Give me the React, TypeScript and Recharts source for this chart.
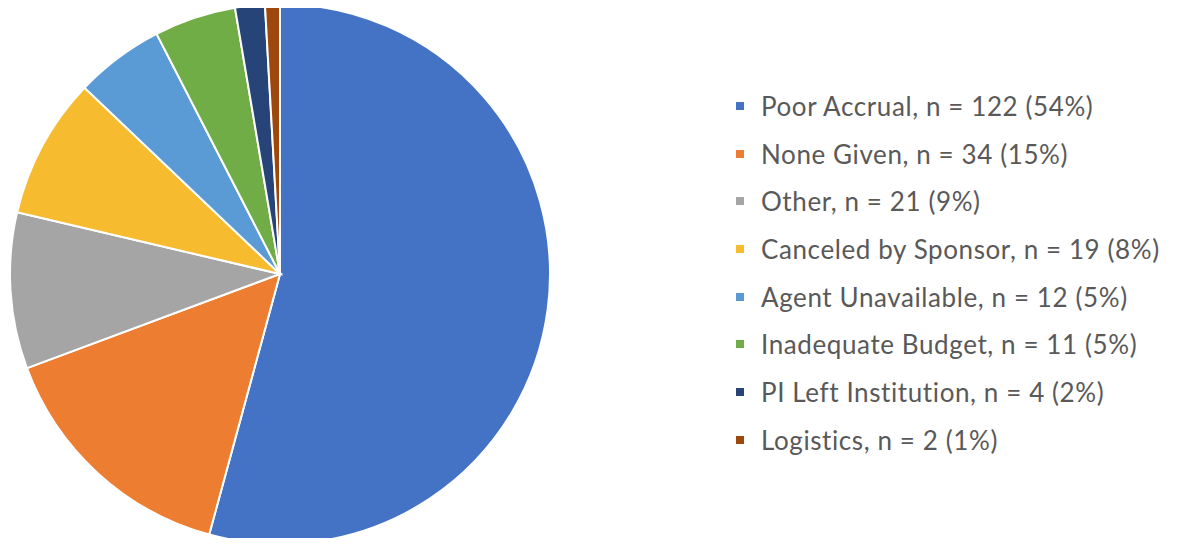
import React from "react";
import { PieChart, Pie, Cell, Legend } from "recharts";

const categories = [
  "Poor Accrual",
  "None Given",
  "Other",
  "Canceled by Sponsor",
  "Agent Unavailable",
  "Inadequate Budget",
  "PI Left Institution",
  "Logistics",
];
const counts = [122, 34, 21, 19, 12, 11, 4, 2];
const percents = [54, 15, 9, 8, 5, 5, 2, 1];
const colors = ["#4472C4", "#ED7D31", "#A5A5A5", "#F7BB2F", "#5B9BD5", "#70AD47", "#264478", "#9E480E"];

const data = categories.map((c, i) => ({
  name: c,
  value: counts[i],
  label: `${c}, n = ${counts[i]} (${percents[i]}%)`,
  fill: colors[i],
}));

const renderLegend = () => (
  <div style={{ position: "absolute", left: 736, top: 82 }}>
    {data.map((d) => (
      <div
        key={d.name}
        style={{
          display: "flex",
          alignItems: "center",
          height: 47.7,
          fontFamily: "Lato, 'Open Sans', sans-serif",
          fontSize: 26,
          letterSpacing: 0.6,
          color: "#595959",
          whiteSpace: "nowrap",
        }}
      >
        <span style={{ display: "inline-block", width: 8, height: 8, background: d.fill, marginRight: 17 }} />
        <span>{d.label}</span>
      </div>
    ))}
  </div>
);

export default function App() {
  return (
    <div style={{ margin: -8, width: 1186, height: 546, background: "#fff", position: "relative" }}>
      <PieChart width={1186} height={546} margin={{ top: 0, right: 0, bottom: 0, left: 0 }}>
        <Pie
          data={data}
          dataKey="value"
          nameKey="name"
          cx={280}
          cy={274}
          outerRadius={270}
          startAngle={90}
          endAngle={-270}
          stroke="#ffffff"
          strokeWidth={2}
          isAnimationActive={false}
        >
          {data.map((d) => (
            <Cell key={d.name} fill={d.fill} />
          ))}
        </Pie>
        <Legend content={renderLegend} wrapperStyle={{ position: "absolute", left: 0, top: 0, width: 0, height: 0 }} />
      </PieChart>
    </div>
  );
}
